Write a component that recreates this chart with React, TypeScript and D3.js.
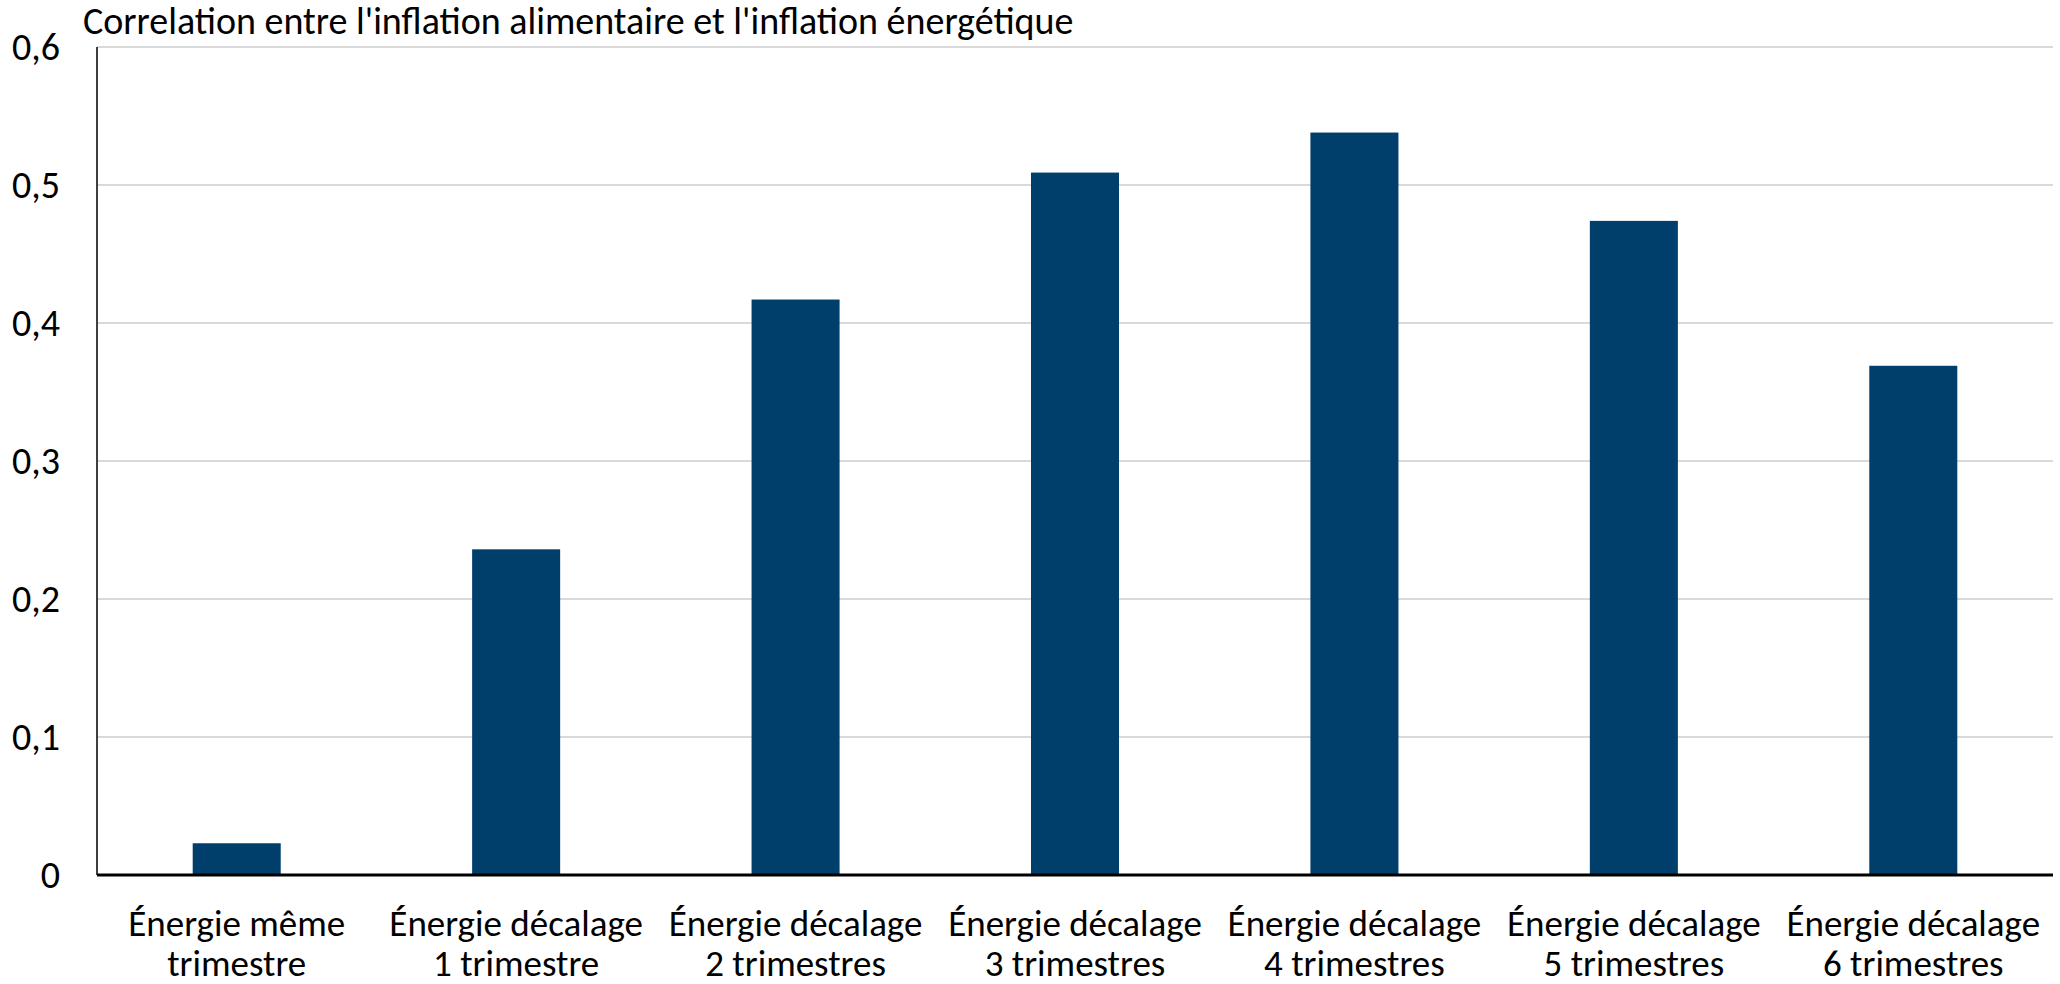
import React from "react";
import * as d3 from "d3";

// Lag of energy inflation relative to food inflation
const categories: string[][] = [
  ["Énergie même", "trimestre"],
  ["Énergie décalage", "1 trimestre"],
  ["Énergie décalage", "2 trimestres"],
  ["Énergie décalage", "3 trimestres"],
  ["Énergie décalage", "4 trimestres"],
  ["Énergie décalage", "5 trimestres"],
  ["Énergie décalage", "6 trimestres"],
];

// Correlation coefficient for each lag
const correlation: number[] = [0.023, 0.236, 0.417, 0.509, 0.538, 0.474, 0.369];

const yTicks: number[] = [0, 0.1, 0.2, 0.3, 0.4, 0.5, 0.6];

const title = "Correlation entre l'inflation alimentaire et l'inflation énergétique";

const W = 2060;
const H = 984;
const FONT = "Carlito, Calibri, Lato, 'Open Sans', sans-serif";

export default function App() {
  const left = 97;
  const right = 2053;
  const top = 47;
  const bottom = 875;

  const x = d3
    .scaleBand<number>()
    .domain(d3.range(categories.length))
    .range([left, right])
    .paddingInner(0.685)
    .paddingOuter(0.3425);

  const y = d3.scaleLinear().domain([0, 0.6]).range([bottom, top]);

  const fmt = (v: number) => (v === 0 ? "0" : d3.format(".1f")(v).replace(".", ","));

  return (
    <svg
      width={W}
      height={H}
      viewBox={`0 0 ${W} ${H}`}
      style={{ position: "fixed", top: 0, left: 0, background: "#fff" }}
      fontFamily={FONT}
    >
      {/* horizontal gridlines */}
      {yTicks
        .filter((t) => t > 0)
        .map((t) => (
          <line
            key={`g${t}`}
            x1={left}
            x2={right}
            y1={y(t)}
            y2={y(t)}
            stroke="#d9d9d9"
            strokeWidth={2}
          />
        ))}

      {/* bars */}
      {correlation.map((v, i) => (
        <rect
          key={`b${i}`}
          x={x(i)}
          y={y(v)}
          width={x.bandwidth()}
          height={y(0) - y(v)}
          fill="#003f6b"
        />
      ))}

      {/* axes */}
      <line x1={left} x2={left} y1={top} y2={bottom} stroke="#000" strokeWidth={1.5} />
      <line x1={left} x2={right} y1={bottom} y2={bottom} stroke="#000" strokeWidth={3} />

      {/* y tick labels */}
      {yTicks.map((t) => (
        <text
          key={`t${t}`}
          x={60}
          y={y(t)}
          textAnchor="end"
          dominantBaseline="central"
          fontSize={38}
          fill="#000"
        >
          {fmt(t)}
        </text>
      ))}

      {/* category labels */}
      {categories.map((lines, i) => (
        <text
          key={`c${i}`}
          x={(x(i) as number) + x.bandwidth() / 2}
          textAnchor="middle"
          fontSize={37}
          fill="#000"
        >
          {lines.map((l, j) => (
            <tspan key={j} x={(x(i) as number) + x.bandwidth() / 2} y={936 + j * 40}>
              {l}
            </tspan>
          ))}
        </text>
      ))}

      {/* title */}
      <text x={83} y={34} fontSize={38} fill="#000">
        {title}
      </text>
    </svg>
  );
}
